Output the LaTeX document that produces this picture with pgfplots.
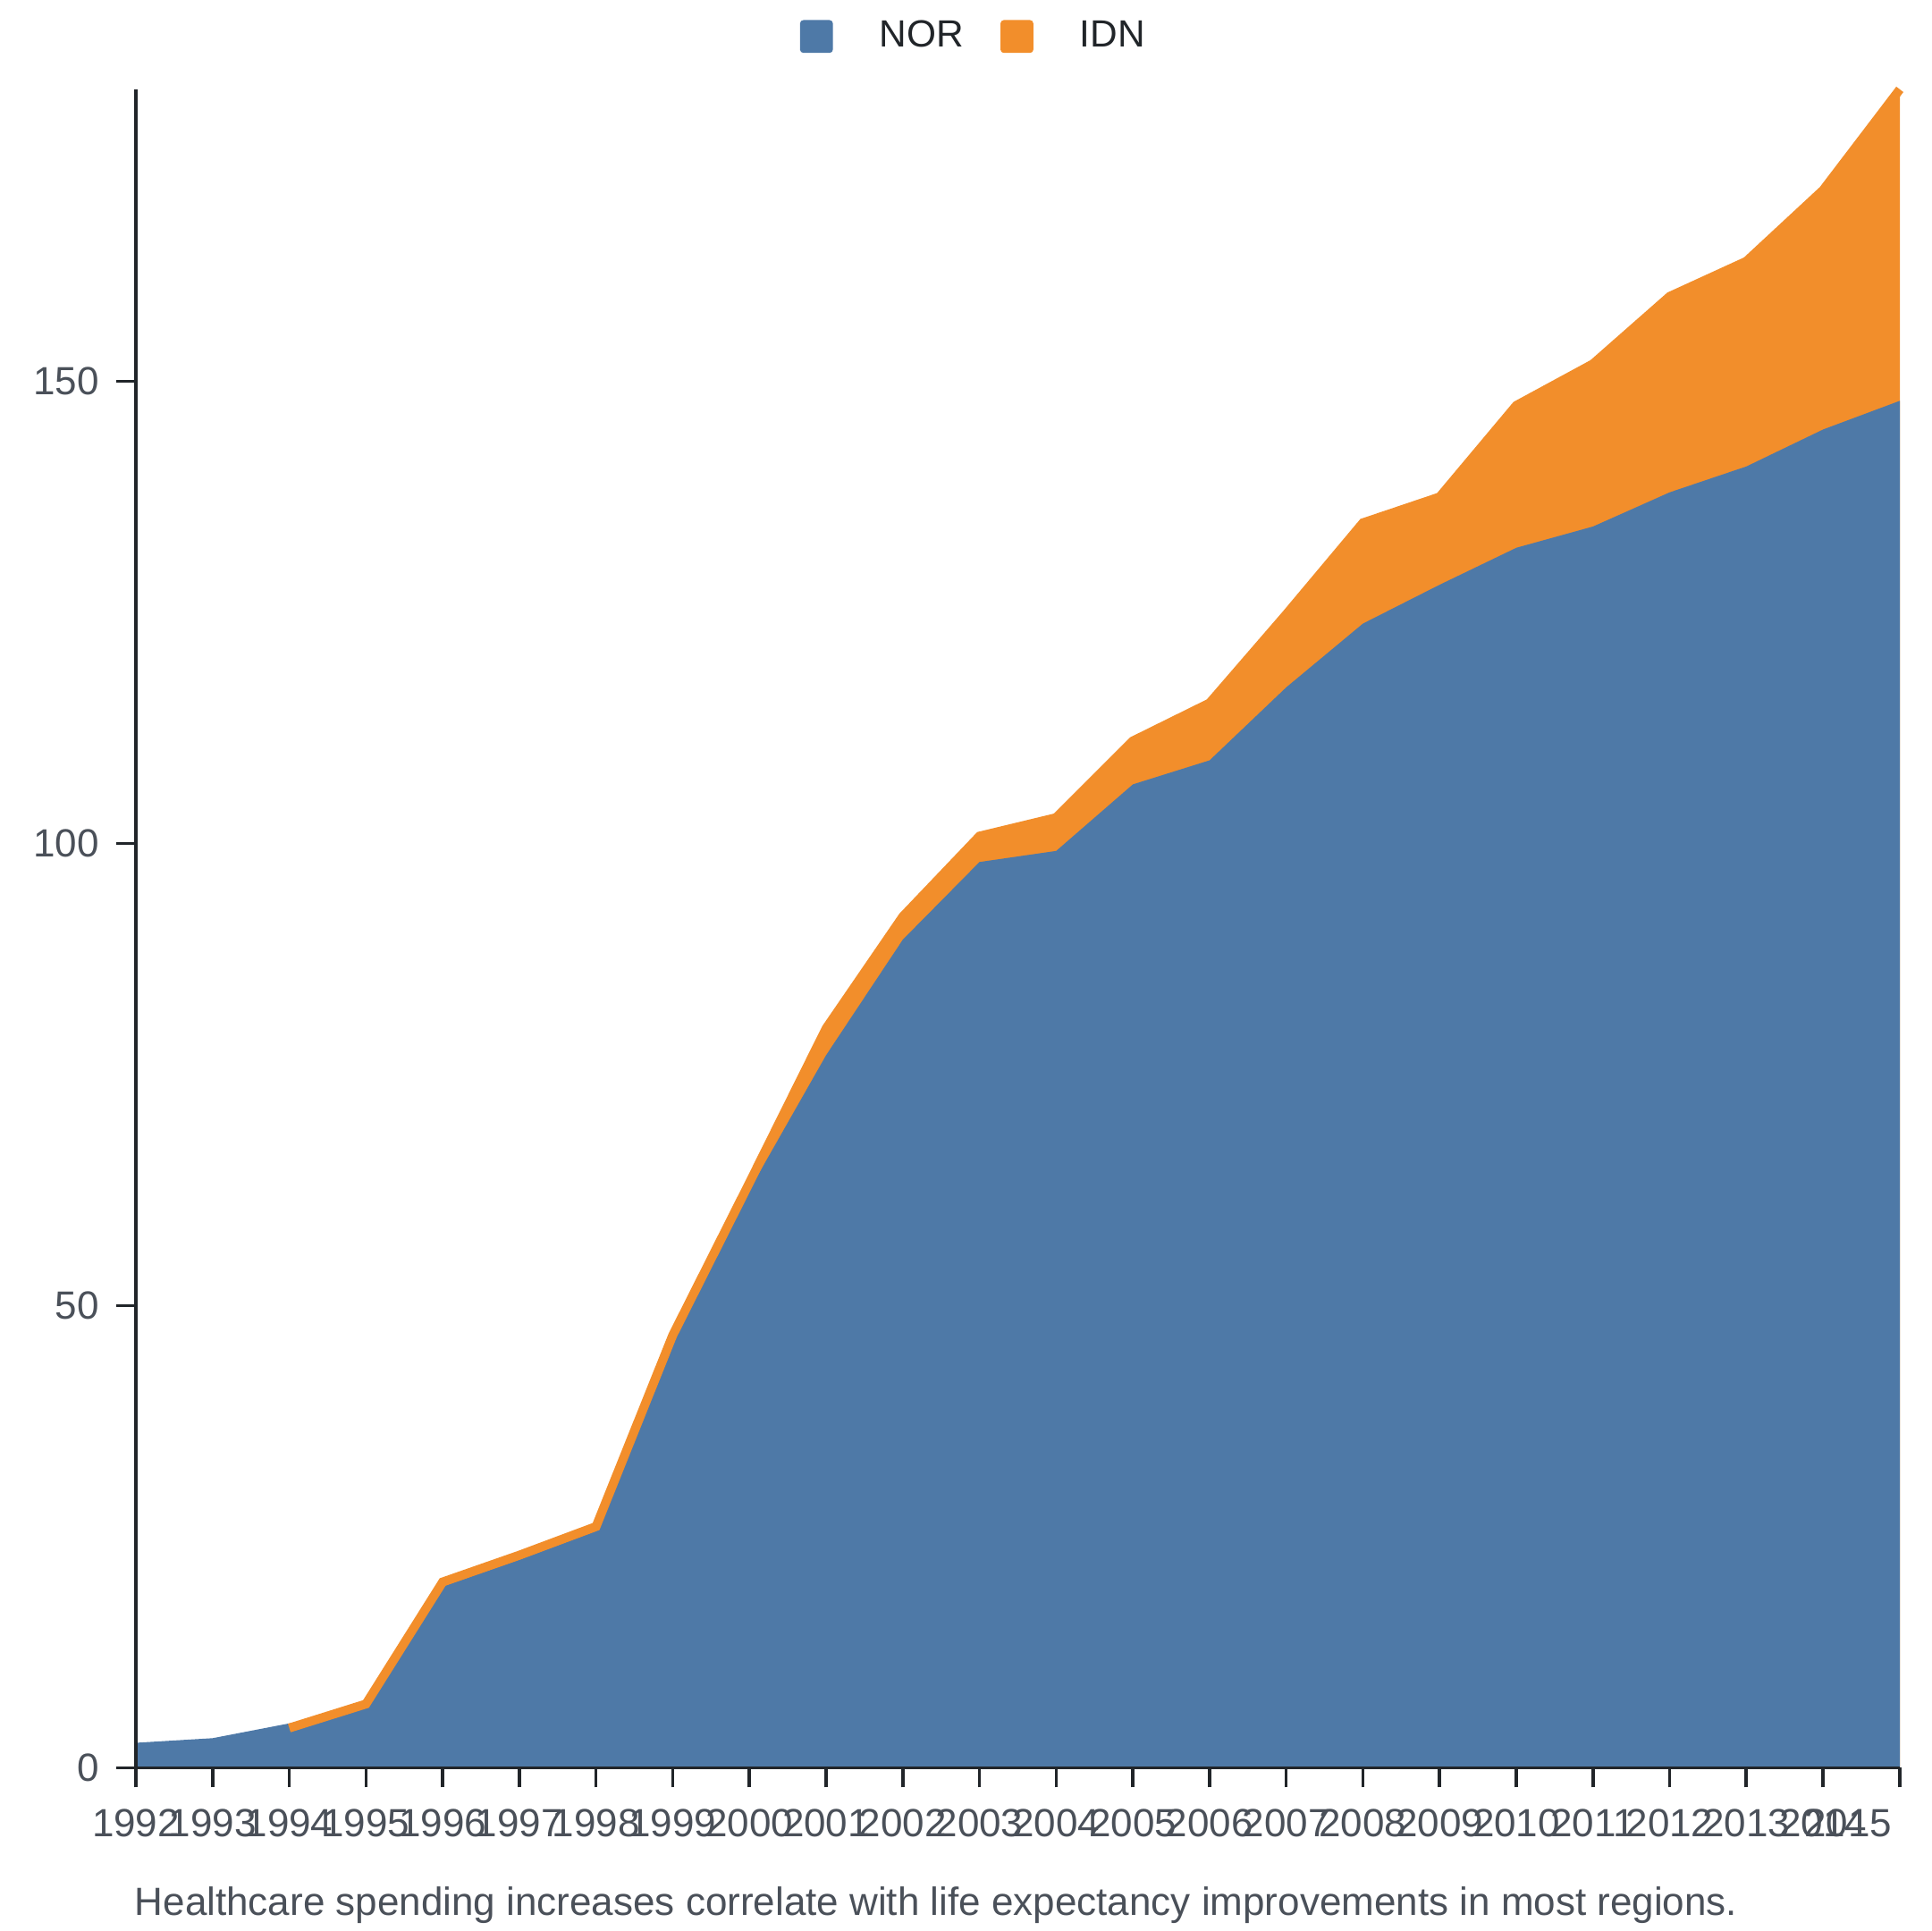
\documentclass[border=0pt]{standalone}
\usepackage{fontspec}
\setmainfont{Liberation Sans}
\usepackage{pgfplots}
\usepackage{pgfplotstable}
\pgfplotsset{compat=1.18}
\definecolor{nor}{RGB}{78,121,167}
\definecolor{idn}{RGB}{242,142,43}
\definecolor{axisc}{RGB}{33,37,41}
\definecolor{lblc}{RGB}{74,80,89}

\pgfplotstableread{
year NOR
1992 2.7
1993 3.2
1994 4.8
1995 6.5
1996 19.6
1997 22.5
1998 25.6
1999 46.3
2000 62.5
2001 77.1
2002 89.6
2003 98.0
2004 99.2
2005 106.4
2006 109.0
2007 116.9
2008 123.8
2009 128.0
2010 132.0
2011 134.3
2012 138.0
2013 140.8
2014 144.8
2015 147.9
}\nordata

\pgfplotstableread{
year NOR IDN
1994 4.8 -0.5
1995 6.5 0.4
1996 19.6 0.5
1997 22.5 0.5
1998 25.6 0.5
1999 46.3 0.5
2000 62.5 0.8
2001 77.1 2.9
2002 89.6 2.5
2003 98.0 2.8
2004 99.2 3.6
2005 106.4 4.7
2006 109.0 6.2
2007 116.9 7.9
2008 123.8 10.9
2009 128.0 9.5
2010 132.0 15.4
2011 134.3 17.6
2012 138.0 21.2
2013 140.8 22.2
2014 144.8 25.9
2015 147.9 33.7
}\idndata

\begin{document}
\begin{tikzpicture}
\path[use as bounding box] (0,0) rectangle (540pt,540pt);
\begin{axis}[
  at={(38pt,45.65pt)}, anchor=south west,
  width=493.25pt, height=469.35pt, scale only axis,
  xmin=1992, xmax=2015, ymin=0, ymax=181.6,
  clip=false, axis on top,
  axis x line*=bottom, axis y line*=left,
  axis line style={axisc, line width=0.9pt},
  every tick/.style={axisc, line width=0.9pt},
  tick align=outside, major tick length=5.5pt,
  xtick={1992,...,2014},
  extra x ticks={2015},
  extra x tick style={xticklabel style={anchor=north east, xshift=-2pt}},
  ytick={0,50,100,150},
  /pgf/number format/assume math mode=true,
  x tick label style={/pgf/number format/1000 sep={}, font=\fontsize{11}{12}\selectfont, text=lblc, inner sep=0pt, yshift=-5.9pt},
  y tick label style={font=\fontsize{11}{12}\selectfont, text=lblc, inner sep=0pt, xshift=-4.6pt},
  legend columns=2,
  legend style={at={(0.3765,1.0315)}, anchor=west, draw=none, fill=none,
    inner sep=0pt, outer sep=0pt,
    nodes={inner sep=0pt, text=axisc, font=\fontsize{10.6}{12}\selectfont},
    /tikz/every odd column/.append style={column sep=13pt},
    /tikz/every even column/.append style={column sep=10.3pt}},
]
\addlegendimage{legend image code/.code={\fill[nor, rounded corners=0.8pt] (0pt,-4.4pt) rectangle (8.8pt,4.4pt);}}
\addlegendentry{NOR}
\addlegendimage{legend image code/.code={\fill[idn, rounded corners=0.8pt] (0pt,-4.4pt) rectangle (8.8pt,4.4pt);}}
\addlegendentry{IDN}
% total (stacked) area of IDN on NOR
\addplot[fill=idn, draw=none, forget plot] table[x=year, y expr=\thisrow{NOR}+\thisrow{IDN}] {\idndata} \closedcycle;
% NOR area
\addplot[fill=nor, draw=none, forget plot] table[x=year, y=NOR] {\nordata} \closedcycle;
% IDN top line
\addplot[idn, line width=2.5pt, line cap=butt, line join=miter, forget plot] table[x=year, y expr=\thisrow{NOR}+\thisrow{IDN}] {\idndata};
\end{axis}
\node[anchor=base west, inner sep=0pt, text=lblc, font=\fontsize{11}{12}\selectfont] at (37.5pt,4.3pt) {Healthcare spending increases correlate with life expectancy improvements in most regions.};
\end{tikzpicture}
\end{document}
